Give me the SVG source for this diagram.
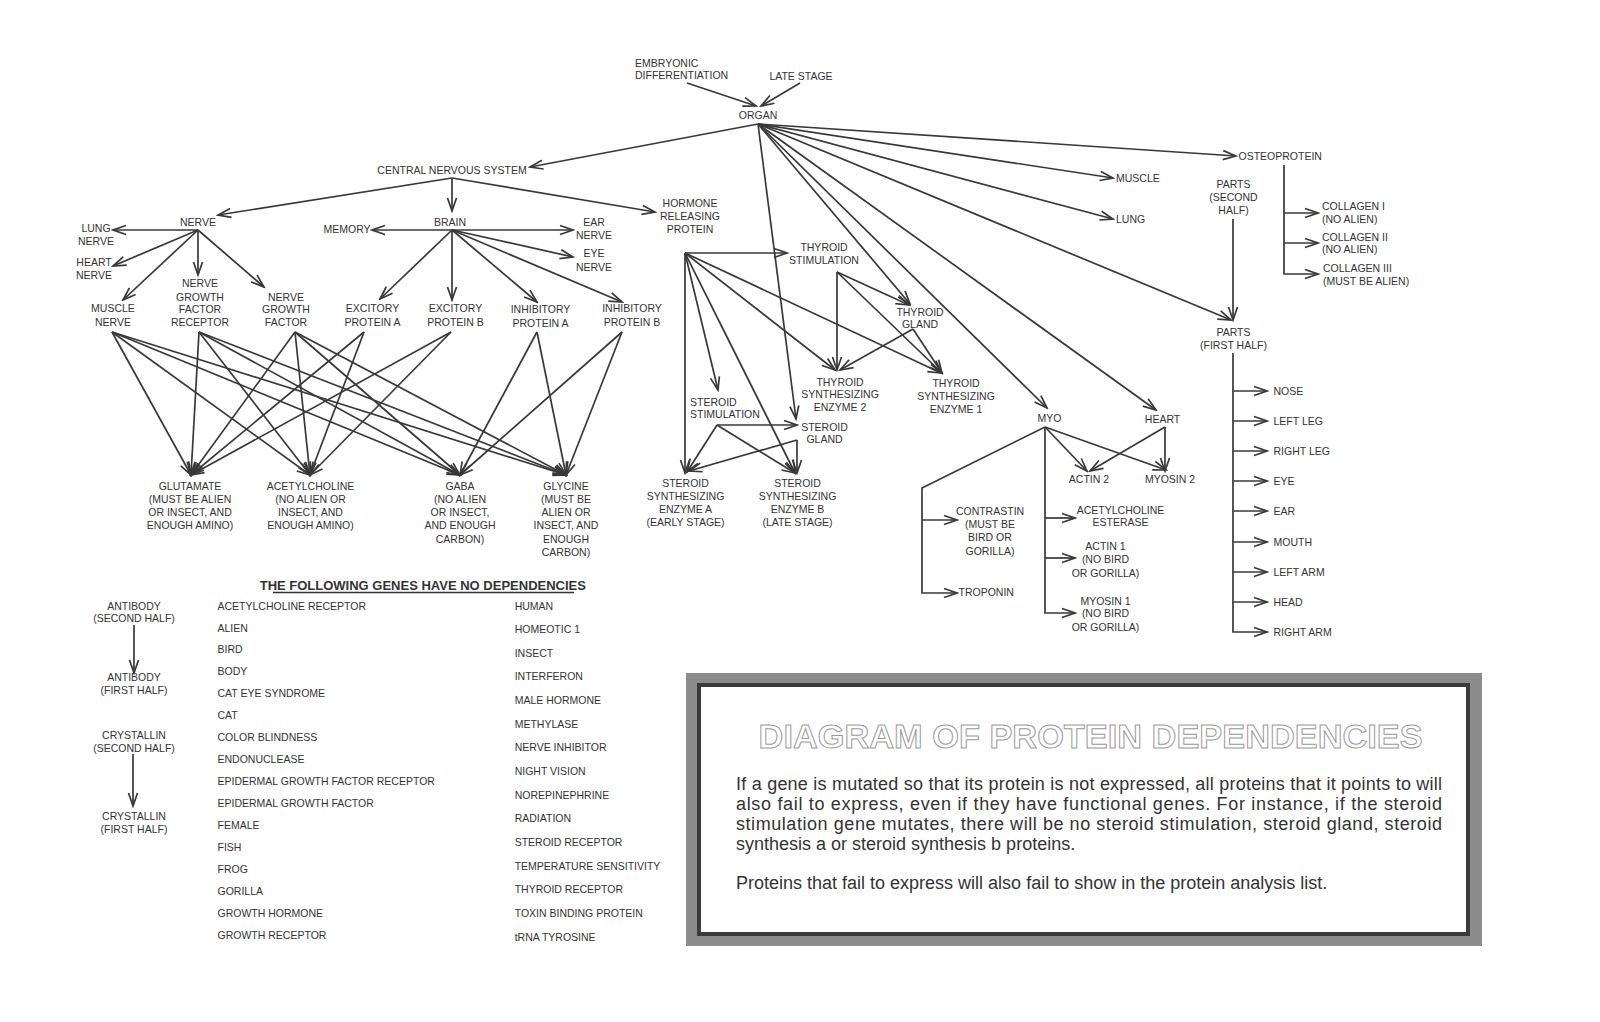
<svg xmlns="http://www.w3.org/2000/svg" width="1600" height="1022" viewBox="0 0 1600 1022">
<defs>
<style>
.t{font-family:"Liberation Sans",Arial,sans-serif;font-size:10.5px;fill:#333;text-anchor:middle}
.l{text-anchor:start}
#connectors line,#connectors path{fill:none;stroke:#383838;stroke-width:1.7}
.e{marker-end:url(#ah)}
.body{font-family:"Liberation Sans",Arial,sans-serif;font-size:18px;fill:#333}
</style>
<marker id="ah" viewBox="-15 -7 17 14" refX="0" refY="0" markerWidth="17" markerHeight="14" markerUnits="userSpaceOnUse" orient="auto">
<path d="M-13,-4.5 L0,0 L-13,4.5" fill="none" stroke="#383838" stroke-width="1.7"/>
</marker>
</defs>
<rect width="1600" height="1022" fill="#fff"/>

<g id="connectors">
<line class="e" x1="687" y1="83" x2="756" y2="106"/>
<line class="e" x1="800" y1="83" x2="761" y2="106"/>
<line class="e" x1="758" y1="124" x2="530" y2="167"/>
<line class="e" x1="758" y1="124" x2="796" y2="419"/>
<line class="e" x1="758" y1="124" x2="910" y2="304"/>
<line class="e" x1="758" y1="124" x2="1047" y2="408"/>
<line class="e" x1="758" y1="124" x2="1156" y2="410"/>
<line class="e" x1="758" y1="124" x2="1231" y2="320"/>
<line class="e" x1="758" y1="124" x2="1113" y2="219"/>
<line class="e" x1="758" y1="124" x2="1113" y2="178"/>
<line class="e" x1="758" y1="124" x2="1236" y2="156"/>
<line class="e" x1="452" y1="178" x2="218" y2="215"/>
<line class="e" x1="452" y1="178" x2="452" y2="211"/>
<line class="e" x1="452" y1="178" x2="655" y2="212"/>
<line class="e" x1="198" y1="230" x2="113" y2="230"/>
<line class="e" x1="198" y1="230" x2="113" y2="266"/>
<line class="e" x1="198" y1="230" x2="123" y2="300"/>
<line class="e" x1="198" y1="230" x2="198" y2="275"/>
<line class="e" x1="198" y1="230" x2="264" y2="287"/>
<line class="e" x1="452" y1="230" x2="372" y2="230"/>
<line class="e" x1="452" y1="230" x2="573" y2="230"/>
<line class="e" x1="452" y1="230" x2="573" y2="257"/>
<line class="e" x1="452" y1="230" x2="380" y2="299"/>
<line class="e" x1="452" y1="230" x2="452" y2="300"/>
<line class="e" x1="452" y1="230" x2="537" y2="302"/>
<line class="e" x1="452" y1="230" x2="622" y2="302"/>
<line class="e" x1="112" y1="332" x2="191" y2="475"/>
<line class="e" x1="112" y1="332" x2="310" y2="475"/>
<line class="e" x1="112" y1="332" x2="460" y2="475"/>
<line class="e" x1="112" y1="332" x2="566" y2="475"/>
<line class="e" x1="199" y1="332" x2="191" y2="475"/>
<line class="e" x1="199" y1="332" x2="310" y2="475"/>
<line class="e" x1="199" y1="332" x2="460" y2="475"/>
<line class="e" x1="199" y1="332" x2="566" y2="475"/>
<line class="e" x1="295" y1="332" x2="191" y2="475"/>
<line class="e" x1="295" y1="332" x2="310" y2="475"/>
<line class="e" x1="295" y1="332" x2="460" y2="475"/>
<line class="e" x1="295" y1="332" x2="566" y2="475"/>
<line class="e" x1="364" y1="332" x2="191" y2="475"/>
<line class="e" x1="364" y1="332" x2="310" y2="475"/>
<line class="e" x1="451" y1="332" x2="191" y2="475"/>
<line class="e" x1="451" y1="332" x2="310" y2="475"/>
<line class="e" x1="537" y1="332" x2="460" y2="475"/>
<line class="e" x1="537" y1="332" x2="566" y2="475"/>
<line class="e" x1="622" y1="332" x2="460" y2="475"/>
<line class="e" x1="622" y1="332" x2="566" y2="475"/>
<line class="e" x1="685" y1="253" x2="787" y2="253"/>
<line class="e" x1="685" y1="253" x2="685" y2="473"/>
<line class="e" x1="685" y1="253" x2="718" y2="390"/>
<line class="e" x1="685" y1="253" x2="795" y2="473"/>
<line class="e" x1="685" y1="253" x2="835" y2="370"/>
<line class="e" x1="685" y1="253" x2="941" y2="373"/>
<line class="e" x1="837" y1="272" x2="837" y2="370"/>
<line class="e" x1="837" y1="272" x2="909" y2="305"/>
<line class="e" x1="837" y1="272" x2="942" y2="373"/>
<line class="e" x1="913" y1="329" x2="840" y2="370"/>
<line class="e" x1="913" y1="329" x2="942" y2="373"/>
<line class="e" x1="717" y1="425" x2="797" y2="425"/>
<line class="e" x1="717" y1="425" x2="687" y2="472"/>
<line class="e" x1="717" y1="425" x2="795" y2="473"/>
<line class="e" x1="797" y1="440" x2="689" y2="471"/>
<line class="e" x1="797" y1="440" x2="797" y2="473"/>
<line class="e" x1="1045" y1="427" x2="1087" y2="471"/>
<line class="e" x1="1045" y1="427" x2="1166" y2="470"/>
<line class="e" x1="1165" y1="427" x2="1090" y2="471"/>
<line class="e" x1="1165" y1="427" x2="1165" y2="471"/>
<path class="e" d="M1045,427 L922,488 L922,593 L957,593"/>
<line class="e" x1="922" y1="520" x2="957" y2="520"/>
<path class="e" d="M1045,427 L1045,613 L1075,613"/>
<line class="e" x1="1045" y1="518" x2="1075" y2="518"/>
<line class="e" x1="1045" y1="558" x2="1075" y2="558"/>
<path class="e" d="M1284,165 L1284,274 L1318,274"/>
<line class="e" x1="1284" y1="213" x2="1318" y2="213"/>
<line class="e" x1="1284" y1="243" x2="1318" y2="243"/>
<line class="e" x1="1233" y1="219" x2="1233" y2="320"/>
<path class="e" d="M1233,353 L1233,632 L1267,632"/>
<line class="e" x1="1233" y1="391" x2="1267" y2="391"/>
<line class="e" x1="1233" y1="421" x2="1267" y2="421"/>
<line class="e" x1="1233" y1="451" x2="1267" y2="451"/>
<line class="e" x1="1233" y1="481" x2="1267" y2="481"/>
<line class="e" x1="1233" y1="511" x2="1267" y2="511"/>
<line class="e" x1="1233" y1="542" x2="1267" y2="542"/>
<line class="e" x1="1233" y1="572" x2="1267" y2="572"/>
<line class="e" x1="1233" y1="602" x2="1267" y2="602"/>
<line class="e" x1="134" y1="625" x2="134" y2="673"/>
<line class="e" x1="133" y1="754" x2="133" y2="806"/>
</g>

<g id="n-embryonic"><text class="t l"><tspan x="635" y="67">EMBRYONIC</tspan><tspan x="635" y="79">DIFFERENTIATION</tspan></text></g>
<g id="n-late-stage"><text class="t" x="801" y="79.5">LATE STAGE</text></g>
<g id="n-organ"><text class="t" x="758" y="119">ORGAN</text></g>
<g id="n-cns"><text class="t" x="452" y="174">CENTRAL NERVOUS SYSTEM</text></g>
<g id="n-nerve"><text class="t" x="198" y="225.5">NERVE</text></g>
<g id="n-brain"><text class="t" x="450" y="226">BRAIN</text></g>
<g id="n-hrp"><text class="t"><tspan x="690" y="207">HORMONE</tspan><tspan x="690" y="220">RELEASING</tspan><tspan x="690" y="233">PROTEIN</tspan></text></g>
<g id="n-lung-nerve"><text class="t"><tspan x="96" y="231.5">LUNG</tspan><tspan x="96" y="244.5">NERVE</tspan></text></g>
<g id="n-heart-nerve"><text class="t"><tspan x="94" y="266">HEART</tspan><tspan x="94" y="279">NERVE</tspan></text></g>
<g id="n-muscle-nerve"><text class="t"><tspan x="113" y="312">MUSCLE</tspan><tspan x="113" y="325.5">NERVE</tspan></text></g>
<g id="n-ngfr"><text class="t"><tspan x="200" y="287">NERVE</tspan><tspan x="200" y="300.5">GROWTH</tspan><tspan x="200" y="313">FACTOR</tspan><tspan x="200" y="326">RECEPTOR</tspan></text></g>
<g id="n-ngf"><text class="t"><tspan x="286" y="300.5">NERVE</tspan><tspan x="286" y="313">GROWTH</tspan><tspan x="286" y="326">FACTOR</tspan></text></g>
<g id="n-memory"><text class="t" x="347" y="233">MEMORY</text></g>
<g id="n-ear-nerve"><text class="t"><tspan x="594" y="226">EAR</tspan><tspan x="594" y="239">NERVE</tspan></text></g>
<g id="n-eye-nerve"><text class="t"><tspan x="594" y="257">EYE</tspan><tspan x="594" y="270.5">NERVE</tspan></text></g>
<g id="n-exc-a"><text class="t"><tspan x="372.5" y="312">EXCITORY</tspan><tspan x="372.5" y="325.5">PROTEIN A</tspan></text></g>
<g id="n-exc-b"><text class="t"><tspan x="455.5" y="312">EXCITORY</tspan><tspan x="455.5" y="325.5">PROTEIN B</tspan></text></g>
<g id="n-inh-a"><text class="t"><tspan x="540.5" y="313">INHIBITORY</tspan><tspan x="540.5" y="326.5">PROTEIN A</tspan></text></g>
<g id="n-inh-b"><text class="t"><tspan x="632" y="312">INHIBITORY</tspan><tspan x="632" y="325.5">PROTEIN B</tspan></text></g>
<g id="n-glutamate"><text class="t"><tspan x="190" y="489.5">GLUTAMATE</tspan><tspan x="190" y="503">(MUST BE ALIEN</tspan><tspan x="190" y="516">OR INSECT, AND</tspan><tspan x="190" y="529">ENOUGH AMINO)</tspan></text></g>
<g id="n-acetylcholine"><text class="t"><tspan x="310.5" y="489.5">ACETYLCHOLINE</tspan><tspan x="310.5" y="503">(NO ALIEN OR</tspan><tspan x="310.5" y="516">INSECT, AND</tspan><tspan x="310.5" y="529">ENOUGH AMINO)</tspan></text></g>
<g id="n-gaba"><text class="t"><tspan x="460" y="489.5">GABA</tspan><tspan x="460" y="503">(NO ALIEN</tspan><tspan x="460" y="516">OR INSECT,</tspan><tspan x="460" y="529">AND ENOUGH</tspan><tspan x="460" y="542.5">CARBON)</tspan></text></g>
<g id="n-glycine"><text class="t"><tspan x="566" y="489.5">GLYCINE</tspan><tspan x="566" y="503">(MUST BE</tspan><tspan x="566" y="516">ALIEN OR</tspan><tspan x="566" y="529">INSECT, AND</tspan><tspan x="566" y="542.5">ENOUGH</tspan><tspan x="566" y="556">CARBON)</tspan></text></g>
<g id="n-thyroid-stim"><text class="t"><tspan x="824" y="250.5">THYROID</tspan><tspan x="824" y="264">STIMULATION</tspan></text></g>
<g id="n-thyroid-gland"><text class="t"><tspan x="920" y="315.5">THYROID</tspan><tspan x="920" y="328">GLAND</tspan></text></g>
<g id="n-tse2"><text class="t"><tspan x="840" y="385.5">THYROID</tspan><tspan x="840" y="398">SYNTHESIZING</tspan><tspan x="840" y="411">ENZYME 2</tspan></text></g>
<g id="n-tse1"><text class="t"><tspan x="956" y="386.5">THYROID</tspan><tspan x="956" y="399.5">SYNTHESIZING</tspan><tspan x="956" y="413">ENZYME 1</tspan></text></g>
<g id="n-steroid-stim"><text class="t l"><tspan x="690" y="405.5">STEROID</tspan><tspan x="690" y="417.5">STIMULATION</tspan></text></g>
<g id="n-steroid-gland"><text class="t"><tspan x="824.5" y="430.5">STEROID</tspan><tspan x="824.5" y="443">GLAND</tspan></text></g>
<g id="n-sse-a"><text class="t"><tspan x="685.5" y="487">STEROID</tspan><tspan x="685.5" y="500">SYNTHESIZING</tspan><tspan x="685.5" y="513">ENZYME A</tspan><tspan x="685.5" y="526">(EARLY STAGE)</tspan></text></g>
<g id="n-sse-b"><text class="t"><tspan x="797.5" y="487">STEROID</tspan><tspan x="797.5" y="500">SYNTHESIZING</tspan><tspan x="797.5" y="513">ENZYME B</tspan><tspan x="797.5" y="526">(LATE STAGE)</tspan></text></g>
<g id="n-myo"><text class="t" x="1049.5" y="422">MYO</text></g>
<g id="n-heart"><text class="t" x="1162.5" y="423">HEART</text></g>
<g id="n-actin2"><text class="t" x="1089" y="483">ACTIN 2</text></g>
<g id="n-myosin2"><text class="t" x="1170" y="483">MYOSIN 2</text></g>
<g id="n-contrastin"><text class="t"><tspan x="990" y="515">CONTRASTIN</tspan><tspan x="990" y="528">(MUST BE</tspan><tspan x="990" y="541">BIRD OR</tspan><tspan x="990" y="554.5">GORILLA)</tspan></text></g>
<g id="n-troponin"><text class="t l" x="958.5" y="595.5">TROPONIN</text></g>
<g id="n-ach-esterase"><text class="t"><tspan x="1120.5" y="514">ACETYLCHOLINE</tspan><tspan x="1120.5" y="526">ESTERASE</tspan></text></g>
<g id="n-actin1"><text class="t"><tspan x="1105.5" y="549.5">ACTIN 1</tspan><tspan x="1105.5" y="563">(NO BIRD</tspan><tspan x="1105.5" y="576.5">OR GORILLA)</tspan></text></g>
<g id="n-myosin1"><text class="t"><tspan x="1105.5" y="604.5">MYOSIN 1</tspan><tspan x="1105.5" y="617">(NO BIRD</tspan><tspan x="1105.5" y="631">OR GORILLA)</tspan></text></g>
<g id="n-muscle"><text class="t l" x="1116" y="182">MUSCLE</text></g>
<g id="n-lung"><text class="t l" x="1116" y="223">LUNG</text></g>
<g id="n-osteoprotein"><text class="t l" x="1238.5" y="159.5">OSTEOPROTEIN</text></g>
<g id="n-parts-second"><text class="t"><tspan x="1233.5" y="188">PARTS</tspan><tspan x="1233.5" y="200.5">(SECOND</tspan><tspan x="1233.5" y="214">HALF)</tspan></text></g>
<g id="n-parts-first"><text class="t"><tspan x="1233.5" y="335.5">PARTS</tspan><tspan x="1233.5" y="349">(FIRST HALF)</tspan></text></g>
<g id="n-collagen1"><text class="t l"><tspan x="1322" y="210">COLLAGEN I</tspan><tspan x="1322" y="223">(NO ALIEN)</tspan></text></g>
<g id="n-collagen2"><text class="t l"><tspan x="1322" y="240.5">COLLAGEN II</tspan><tspan x="1322" y="253">(NO ALIEN)</tspan></text></g>
<g id="n-collagen3"><text class="t l"><tspan x="1323" y="271.5">COLLAGEN III</tspan><tspan x="1323" y="285">(MUST BE ALIEN)</tspan></text></g>
<g id="n-nose"><text class="t l" x="1273.5" y="395">NOSE</text></g>
<g id="n-left-leg"><text class="t l" x="1273.5" y="425">LEFT LEG</text></g>
<g id="n-right-leg"><text class="t l" x="1273.5" y="455">RIGHT LEG</text></g>
<g id="n-eye"><text class="t l" x="1273.5" y="485">EYE</text></g>
<g id="n-ear"><text class="t l" x="1273.5" y="515">EAR</text></g>
<g id="n-mouth"><text class="t l" x="1273.5" y="546">MOUTH</text></g>
<g id="n-left-arm"><text class="t l" x="1273.5" y="576">LEFT ARM</text></g>
<g id="n-head"><text class="t l" x="1273.5" y="606">HEAD</text></g>
<g id="n-right-arm"><text class="t l" x="1273.5" y="636">RIGHT ARM</text></g>

<g id="n-antibody-second"><text class="t"><tspan x="134" y="609.5">ANTIBODY</tspan><tspan x="134" y="622">(SECOND HALF)</tspan></text></g>
<g id="n-antibody-first"><text class="t"><tspan x="134" y="680.5">ANTIBODY</tspan><tspan x="134" y="694">(FIRST HALF)</tspan></text></g>
<g id="n-crystallin-second"><text class="t"><tspan x="134" y="739">CRYSTALLIN</tspan><tspan x="134" y="751.5">(SECOND HALF)</tspan></text></g>
<g id="n-crystallin-first"><text class="t"><tspan x="134" y="820">CRYSTALLIN</tspan><tspan x="134" y="832.5">(FIRST HALF)</tspan></text></g>

<g id="no-dependencies">
<text x="259.7" y="589.5" font-family="Liberation Sans, Arial, sans-serif" font-weight="bold" font-size="13" fill="#333">THE FOLLOWING GENES HAVE NO DEPENDENCIES</text>
<line x1="273" y1="592.5" x2="574" y2="592.5" stroke="#333" stroke-width="1.3"/>
<text class="t l">
<tspan x="217.5" y="609.5">ACETYLCHOLINE RECEPTOR</tspan>
<tspan x="217.5" y="631.5">ALIEN</tspan>
<tspan x="217.5" y="653.4">BIRD</tspan>
<tspan x="217.5" y="675.4">BODY</tspan>
<tspan x="217.5" y="697.3">CAT EYE SYNDROME</tspan>
<tspan x="217.5" y="719.3">CAT</tspan>
<tspan x="217.5" y="741.2">COLOR BLINDNESS</tspan>
<tspan x="217.5" y="763.2">ENDONUCLEASE</tspan>
<tspan x="217.5" y="785.1">EPIDERMAL GROWTH FACTOR RECEPTOR</tspan>
<tspan x="217.5" y="807.1">EPIDERMAL GROWTH FACTOR</tspan>
<tspan x="217.5" y="829">FEMALE</tspan>
<tspan x="217.5" y="851">FISH</tspan>
<tspan x="217.5" y="872.9">FROG</tspan>
<tspan x="217.5" y="894.9">GORILLA</tspan>
<tspan x="217.5" y="916.8">GROWTH HORMONE</tspan>
<tspan x="217.5" y="938.8">GROWTH RECEPTOR</tspan>
</text>
<text class="t l">
<tspan x="514.7" y="609.5">HUMAN</tspan>
<tspan x="514.7" y="633.1">HOMEOTIC 1</tspan>
<tspan x="514.7" y="656.8">INSECT</tspan>
<tspan x="514.7" y="680.4">INTERFERON</tspan>
<tspan x="514.7" y="704.1">MALE HORMONE</tspan>
<tspan x="514.7" y="727.7">METHYLASE</tspan>
<tspan x="514.7" y="751.3">NERVE INHIBITOR</tspan>
<tspan x="514.7" y="775">NIGHT VISION</tspan>
<tspan x="514.7" y="798.6">NOREPINEPHRINE</tspan>
<tspan x="514.7" y="822.3">RADIATION</tspan>
<tspan x="514.7" y="845.9">STEROID RECEPTOR</tspan>
<tspan x="514.7" y="869.5">TEMPERATURE SENSITIVITY</tspan>
<tspan x="514.7" y="893.2">THYROID RECEPTOR</tspan>
<tspan x="514.7" y="916.8">TOXIN BINDING PROTEIN</tspan>
<tspan x="514.7" y="940.5">tRNA TYROSINE</tspan>
</text>
</g>

<g id="legend-box">
<rect x="686" y="673" width="796" height="273" fill="#8c8c8c"/>
<rect x="699" y="685" width="769" height="249" fill="#fff" stroke="#3a3a3a" stroke-width="4"/>
<text x="1090.6" y="748" text-anchor="middle" textLength="664" lengthAdjust="spacingAndGlyphs" font-family="Liberation Sans, Arial, sans-serif" font-weight="bold" font-size="34" fill="#fff" stroke="#9a9a9a" stroke-width="1">DIAGRAM OF PROTEIN DEPENDENCIES</text>
<text class="body" x="736" y="790" textLength="706" lengthAdjust="spacing">If a gene is mutated so that its protein is not expressed, all proteins that it points to will</text>
<text class="body" x="736" y="810" textLength="706" lengthAdjust="spacing">also fail to express, even if they have functional genes. For instance, if the steroid</text>
<text class="body" x="736" y="830" textLength="706" lengthAdjust="spacing">stimulation gene mutates, there will be no steroid stimulation, steroid gland, steroid</text>
<text class="body" x="736" y="850">synthesis a or steroid synthesis b proteins.</text>
<text class="body" x="736" y="889">Proteins that fail to express will also fail to show in the protein analysis list.</text>
</g>
</svg>
